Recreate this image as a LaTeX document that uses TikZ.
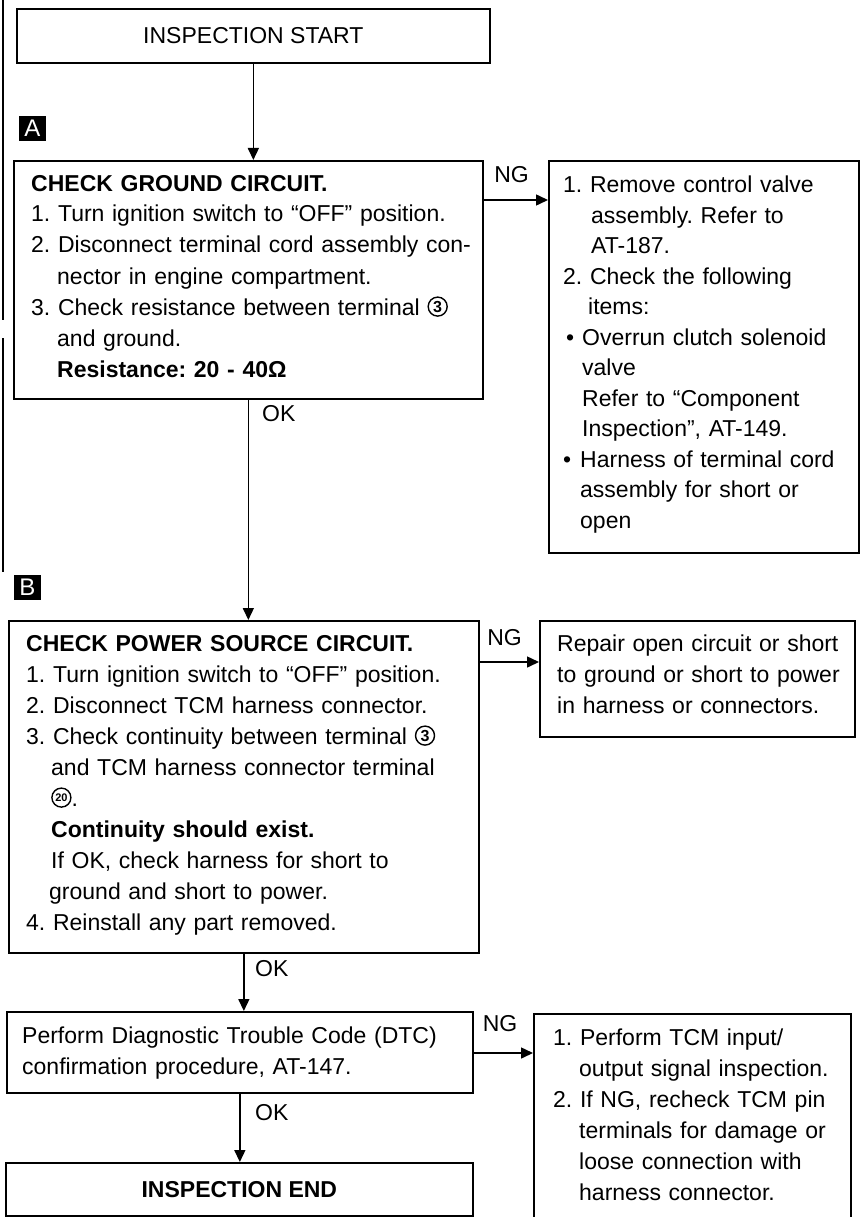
\documentclass[tikz,border=0pt]{standalone}
\usepackage{fontspec}
\setmainfont{Liberation Sans}
\usetikzlibrary{arrows.meta}
\newcommand\myfs{\fontsize{23}{31}\selectfont\frenchspacing}
\newcommand\cnum[2]{\tikz[baseline=-8.4pt]\node[circle,draw,line width=1.4pt,minimum size=19pt,inner sep=0pt,text width={},anchor=center,text=black,font=#1](cn){#2};}
\tikzset{
  box/.style={draw, line width=1.7pt, inner sep=0pt, anchor=north west},
  txt/.style={anchor=base west, inner sep=0pt, align=left, text width=480pt, font=\myfs},
  lbl/.style={inner sep=0pt, font=\myfs},
  arr/.style={line width=1.5pt, -{Triangle[length=12pt,width=11pt]}},
  tagbox/.style={fill=black, text=white, inner sep=0pt, minimum width=27pt, minimum height=25pt, font=\fontsize{24}{24}\selectfont},
}
\begin{document}
\begin{tikzpicture}[x=1pt,y=-1pt]
\useasboundingbox (0,0) rectangle (860,1217);
\clip (0,0) rectangle (860,1217);
% scan margin line
\draw[line width=1.8pt] (3,0) -- (3,320);
\draw[line width=1.8pt] (3,338) -- (3,572);

% start
\node[box, minimum width=473pt, minimum height=54pt, font=\myfs] (start) at (16,8) {INSPECTION START};

% A
\node[tagbox] (tagA) at (32.5,128.5) {A};
\node[box, minimum width=469pt, minimum height=238pt] (chkA) at (13,160) {};
\node[txt] (txtA) at (31,191) {\textbf{CHECK GROUND CIRCUIT.}\\
1. Turn ignition switch to “OFF” position.\\
2. Disconnect terminal cord assembly con-\\
\hspace*{26pt}nector in engine compartment.\\
3. Check resistance between terminal \cnum{\bfseries\fontsize{16}{16}\selectfont}{3}\\
\hspace*{26pt}and ground.\\
\hspace*{26pt}\textbf{Resistance: 20 - 40Ω}};

\node[box, minimum width=310pt, minimum height=392pt] (ng1) at (548,160) {};
\node[txt, font=\fontsize{23}{30.5}\selectfont\frenchspacing] (ng1txt) at (563,193) {1. Remove control valve\\
\hspace*{28pt}assembly. Refer to\\
\hspace*{28pt}AT-187.\\
2. Check the following\\
\hspace*{25pt}items:\\
\hspace*{3pt}\makebox[16pt][l]{•}Overrun clutch solenoid\\
\hspace*{19pt}valve\\
\hspace*{19pt}Refer to “Component\\
\hspace*{19pt}Inspection”, AT-149.\\
\makebox[17pt][l]{•}Harness of terminal cord\\
\hspace*{17pt}assembly for short or\\
\hspace*{17pt}open};

\draw[arr] (chkA.east |- 0,200) -- (ng1.west |- 0,200);
\node[lbl] (ngA) at (511.5,175) {NG};
\draw[arr] (start.south) -- (start.south |- chkA.north);

% B
\node[tagbox] (tagB) at (27.5,587.5) {B};
\node[box, minimum width=470pt, minimum height=332pt] (chkB) at (8,620) {};
\node[txt] (txtB) at (26,651) {\textbf{CHECK POWER SOURCE CIRCUIT.}\\
1. Turn ignition switch to “OFF” position.\\
2. Disconnect TCM harness connector.\\
3. Check continuity between terminal \cnum{\bfseries\fontsize{16}{16}\selectfont}{3}\\
\hspace*{25pt}and TCM harness connector terminal\\
\hspace*{25pt}\cnum{\bfseries\fontsize{11}{11}\selectfont}{20}.\\
\hspace*{25pt}\textbf{Continuity should exist.}\\
\hspace*{25pt}If OK, check harness for short to\\
\hspace*{23pt}ground and short to power.\\
4. Reinstall any part removed.};
\node[lbl, anchor=west] (okA) at (262,414) {OK};
\draw[arr] (chkA.south) -- (chkA.south |- chkB.north);

\node[box, minimum width=315pt, minimum height=116pt] (ng2) at (539,620) {};
\node[txt] (ng2txt) at (557,651) {Repair open circuit or short\\
to ground or short to power\\
in harness or connectors.};
\draw[arr] (chkB.east |- 0,662) -- (ng2.west |- 0,662);
\node[lbl] (ngB) at (504.5,638) {NG};

% C
\node[box, minimum width=466pt, minimum height=81pt] (chkC) at (6,1011) {};
\node[txt] (txtC) at (22,1043) {Perform Diagnostic Trouble Code (DTC)\\
confirmation procedure, AT-147.};
\node[lbl, anchor=west] (okB) at (255,969) {OK};
\draw[arr] (chkB.south) -- (chkB.south |- chkC.north);

\node[box, minimum width=317pt, minimum height=240pt] (ng3) at (533,1013) {};
\node[txt] (ng3txt) at (553,1045) {1. Perform TCM input/\\
\hspace*{26pt}output signal inspection.\\
2. If NG, recheck TCM pin\\
\hspace*{26pt}terminals for damage or\\
\hspace*{26pt}loose connection with\\
\hspace*{26pt}harness connector.};
\draw[arr] (chkC.east |- 0,1053) -- (ng3.west |- 0,1053);
\node[lbl] (ngC) at (500,1024) {NG};

% end
\node[box, minimum width=467pt, minimum height=53pt, font=\myfs\bfseries] (endb) at (5,1162) {INSPECTION END};
\node[lbl, anchor=west] (okC) at (255,1113) {OK};
\draw[arr] (chkC.south) -- (chkC.south |- endb.north);
\end{tikzpicture}
\end{document}
